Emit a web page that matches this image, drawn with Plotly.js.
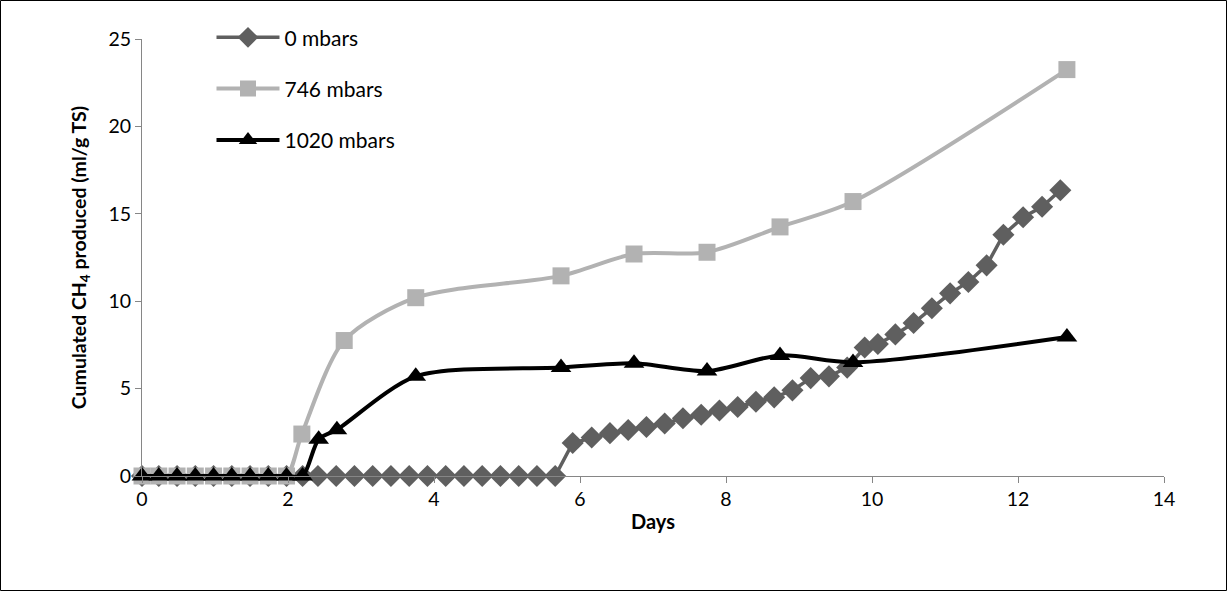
<!DOCTYPE html>
<html><head><meta charset="utf-8">
<script src="https://cdn.plot.ly/plotly-3.0.1.min.js"></script>
<style>html,body{margin:0;padding:0;background:#fff}#chart{width:1227px;height:602px}</style>
</head><body><div id="chart"></div><script>
// Days (x) and cumulated CH4 (ml/g TS) for each pressure series
const days0 = [0,0.23,0.48,0.73,0.98,1.23,1.48,1.73,1.98,2.2,2.41,2.66,2.91,3.16,3.41,3.66,3.91,4.16,4.41,4.66,4.91,5.16,5.41,5.66,
  5.9,6.16,6.41,6.66,6.91,7.16,7.41,7.66,7.91,8.16,8.41,8.66,8.91,9.16,9.41,9.66,9.9,10.08,10.32,10.57,10.82,11.07,11.32,11.57,11.8,12.07,12.33,12.58];
const ch4_0 = [0,0,0,0,0,0,0,0,0,0,0,0,0,0,0,0,0,0,0,0,0,0,0,0,
  1.89,2.2,2.45,2.63,2.8,3.0,3.3,3.5,3.75,3.95,4.25,4.5,4.9,5.6,5.7,6.2,7.35,7.55,8.1,8.75,9.6,10.45,11.1,12.05,13.8,14.8,15.4,16.35];
const days746 = [0,0.23,0.48,0.73,0.98,1.23,1.48,1.73,1.98,2.19,2.77,3.75,5.74,6.74,7.74,8.74,9.74,12.67];
const ch4_746 = [0,0,0,0,0,0,0,0,0,2.4,7.75,10.2,11.45,12.7,12.8,14.25,15.7,23.25];
const days1020 = [0,0.23,0.48,0.73,0.98,1.23,1.48,1.73,1.98,2.2,2.42,2.67,3.75,5.74,6.74,7.74,8.74,9.74,12.67];
const ch4_1020 = [0,0,0,0,0,0,0,0,0,0,2.1,2.65,5.7,6.2,6.45,6.0,6.9,6.5,7.95];
const seriesNames = ['0 mbars','746 mbars','1020 mbars'];
const xTicks = [0,2,4,6,8,10,12,14];
const yTicks = [0,5,10,15,20,25];

const FONT = 'Lato, "Open Sans", sans-serif';

const traces = [
  {x: days0, y: ch4_0, name: seriesNames[0], type: 'scatter', mode: 'lines+markers', legendgroup: 'a',
   line: {color: '#5f5f5f', width: 3.5, shape: 'linear'},
   marker: {symbol: 'diamond', size: 17, color: '#5f5f5f'}, cliponaxis: false},
  {x: days746, y: ch4_746, name: seriesNames[1], type: 'scatter', mode: 'lines+markers', legendgroup: 'b',
   line: {color: '#b2b2b2', width: 4, shape: 'spline', smoothing: 0.8},
   marker: {symbol: 'square', size: 17, color: '#b2b2b2'}, cliponaxis: false},
  {x: days1020, y: ch4_1020, name: seriesNames[2], type: 'scatter', mode: 'lines+markers', legendgroup: 'c',
   line: {color: '#000000', width: 4, shape: 'spline', smoothing: 0.8},
   marker: {symbol: 'triangle-up', size: 18, color: '#000000'}, cliponaxis: false}
];

const layout = {
  width: 1227, height: 602,
  margin: {l: 142, r: 63, t: 39, b: 126},
  paper_bgcolor: '#ffffff', plot_bgcolor: '#ffffff',
  font: {family: FONT, size: 19, color: '#000'},
  showlegend: true,
  legend: {x: 0.068, y: 1.05, xanchor: 'left', yanchor: 'top', traceorder: 'grouped',
    tracegroupgap: 21, itemwidth: 63, bgcolor: 'rgba(0,0,0,0)',
    font: {family: FONT, size: 21, color: '#000'}},
  xaxis: {range: [0, 14], tickvals: xTicks, ticktext: xTicks.map(String),
    showgrid: false, zeroline: false, showline: true, linecolor: '#868686', linewidth: 1,
    ticks: 'outside', ticklen: 6, tickcolor: '#868686', tickfont: {size: 19.5},
    title: {text: '<b>Days</b>', font: {size: 20}, standoff: 5}},
  yaxis: {range: [0, 25], tickvals: yTicks, ticktext: yTicks.map(String),
    showgrid: false, zeroline: false, showline: true, linecolor: '#868686', linewidth: 1,
    ticks: 'outside', ticklen: 6, tickcolor: '#868686', tickfont: {size: 19.5},
    title: {text: '<b>Cumulated CH<sub>4</sub> produced (ml/g TS)</b>', font: {size: 19.5}, standoff: 16}},
  shapes: [{type: 'rect', xref: 'paper', yref: 'paper',
    x0: (0.5-142)/1022, x1: (1226.5-142)/1022, y0: (476-590.5)/437, y1: (476-0.5)/437,
    line: {color: '#000', width: 1}, fillcolor: 'rgba(0,0,0,0)', layer: 'below'}]
};

Plotly.newPlot('chart', traces, layout, {displayModeBar: false, staticPlot: true});
</script></body></html>
